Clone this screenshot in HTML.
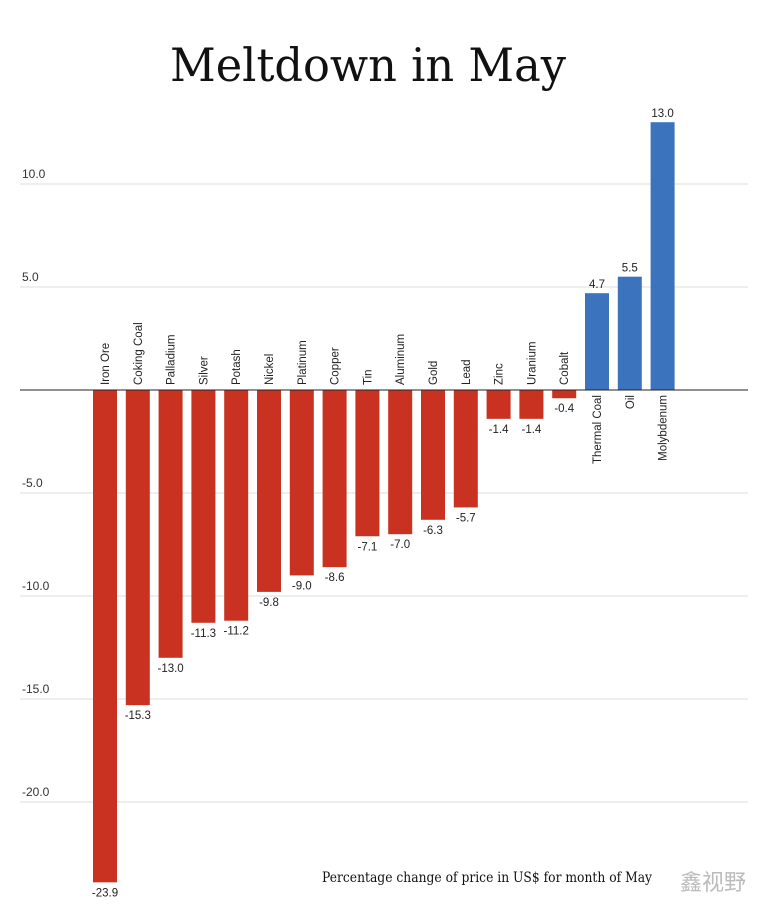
<!DOCTYPE html>
<html><head><meta charset="utf-8"><style>
body{margin:0;background:#fff;width:765px;height:921px;overflow:hidden}
svg{display:block}
</style></head><body>
<svg id="chart" width="765" height="921" font-family="Liberation Sans, sans-serif">
<text x="170" y="81" textLength="396" lengthAdjust="spacingAndGlyphs" font-family="DejaVu Serif, serif" font-size="46" fill="#111">Meltdown in May</text>
<g id="grid"></g><g id="bars"></g>
<text x="322" y="882" textLength="330" lengthAdjust="spacingAndGlyphs" font-family="DejaVu Serif, serif" font-size="14" fill="#111">Percentage change of price in US$ for month of May</text>
<text x="680" y="890" font-family="Liberation Sans, Noto Sans CJK SC, sans-serif" font-size="22" fill="#bbb">鑫视野</text>
</svg>
<script>
const categories=["Iron Ore","Coking Coal","Palladium","Silver","Potash","Nickel","Platinum","Copper","Tin","Aluminum","Gold","Lead","Zinc","Uranium","Cobalt","Thermal Coal","Oil","Molybdenum"];
const values=[-23.9,-15.3,-13.0,-11.3,-11.2,-9.8,-9.0,-8.6,-7.1,-7.0,-6.3,-5.7,-1.4,-1.4,-0.4,4.7,5.5,13.0];
const ticks=[10,5,-5,-10,-15,-20];
const NS="http://www.w3.org/2000/svg";
const y=v=>390-v*20.6;
const x=i=>93+i*32.8;
function mk(t,a,p){const e=document.createElementNS(NS,t);for(const k in a)e.setAttribute(k,a[k]);p.appendChild(e);return e;}
const g=document.getElementById('grid'),b=document.getElementById('bars');
ticks.forEach(t=>{
 const l=mk('line',{x1:20,x2:748,y1:y(t),y2:y(t),stroke:'#ddd','stroke-width':1},g);
 
 
 const tx=mk('text',{x:22,y:y(t)-6,'font-size':12,fill:'#333'},g);tx.textContent=t.toFixed(1);
 
 
});
values.forEach((v,i)=>{
 const neg=v<0,top=neg?y(0):y(v),h=Math.abs(y(v)-y(0));
 const r=mk('rect',{x:x(i),y:top,width:24,height:h,fill:neg?'#c93220':'#3b74bd'},b);
 
 
 const cx=x(i)+12;
 const vl=mk('text',{x:cx,y:neg?y(v)+14:y(v)-5,'text-anchor':'middle','font-size':11.5,fill:'#222'},b);
 vl.textContent=v.toFixed(1);
 
 
 const ly=neg?y(0)-5:y(0)+5;
 const cl=mk('text',{x:cx+4,y:ly,'text-anchor':neg?'start':'end','font-size':11.5,fill:'#222',transform:`rotate(-90 ${cx+4} ${ly})`},b);
 cl.textContent=categories[i];
 
 
});
const z=mk('line',{x1:20,x2:748,y1:y(0),y2:y(0),stroke:'#222','stroke-width':1},b);


</script>
</body></html>
